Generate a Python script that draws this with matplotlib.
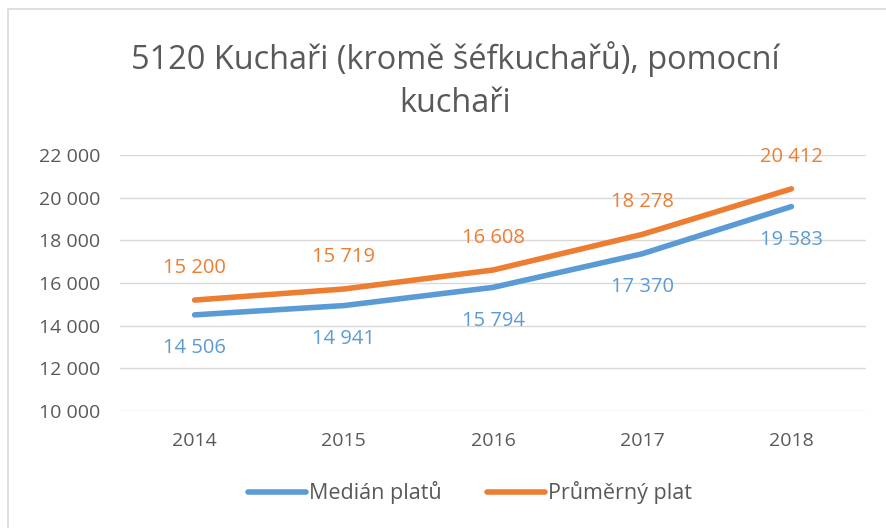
import matplotlib.pyplot as plt
from matplotlib.patches import Rectangle

plt.rcParams['font.family'] = ['Open Sans', 'DejaVu Sans']

years = ['2014', '2015', '2016', '2017', '2018']
median = [14506, 14941, 15794, 17370, 19583]
average = [15200, 15719, 16608, 18278, 20412]

blue = '#5B9BD5'
orange = '#ED7D31'
grey = '#595959'


def fmt(v):
    return f'{v:,}'.replace(',', ' ')


fig = plt.figure(figsize=(8.86, 5.28), dpi=100)
ax = fig.add_axes([120 / 886, 1 - 411 / 528, 746 / 886, (411 - 155) / 528])

x = range(len(years))
ax.plot(x, median, color=blue, lw=4, solid_capstyle='round', label='Medián platů')
ax.plot(x, average, color=orange, lw=4, solid_capstyle='round', label='Průměrný plat')

# data labels
for i, v in enumerate(median):
    ax.annotate(fmt(v), (i, v), xytext=(0, -24), textcoords='offset points',
                ha='center', va='center', color=blue, fontsize=14.5)
for i, v in enumerate(average):
    ax.annotate(fmt(v), (i, v), xytext=(0, 23), textcoords='offset points',
                ha='center', va='center', color=orange, fontsize=14.5)

ax.set_xlim(-0.5, 4.5)
ax.set_ylim(10000, 22000)
ax.set_yticks(range(10000, 22001, 2000))
ax.set_yticklabels([fmt(t) for t in range(10000, 22001, 2000)])
ax.set_xticks(list(x))
ax.set_xticklabels(years)
ax.tick_params(length=0, colors=grey, labelsize=14)
ax.tick_params(axis='y', pad=14)
ax.tick_params(axis='x', pad=15)
ax.grid(axis='y', color='#D9D9D9', lw=1)
ax.set_axisbelow(True)
for s in ax.spines.values():
    s.set_visible(False)

fig.text(455 / 886, 1 - 59 / 528, '5120 Kuchaři (kromě šéfkuchařů), pomocní',
         ha='center', va='center', fontsize=23.4, color=grey)
fig.text(455 / 886, 1 - 103 / 528, 'kuchaři',
         ha='center', va='center', fontsize=23.4, color=grey)

fig.legend(loc='center', bbox_to_anchor=(470 / 886, 1 - 493 / 528), ncol=2,
           frameon=False, fontsize=15.5, labelcolor=grey, handlelength=2.7,
           handletextpad=0.15, columnspacing=2.1)

# chart border
fig.patches.append(Rectangle((8 / 886, -0.1), 1.2, 1 - 9 / 528 + 0.1,
                             transform=fig.transFigure, fill=False,
                             edgecolor='#D9D9D9', lw=1.2))

fig.savefig('out.png', dpi=100)
